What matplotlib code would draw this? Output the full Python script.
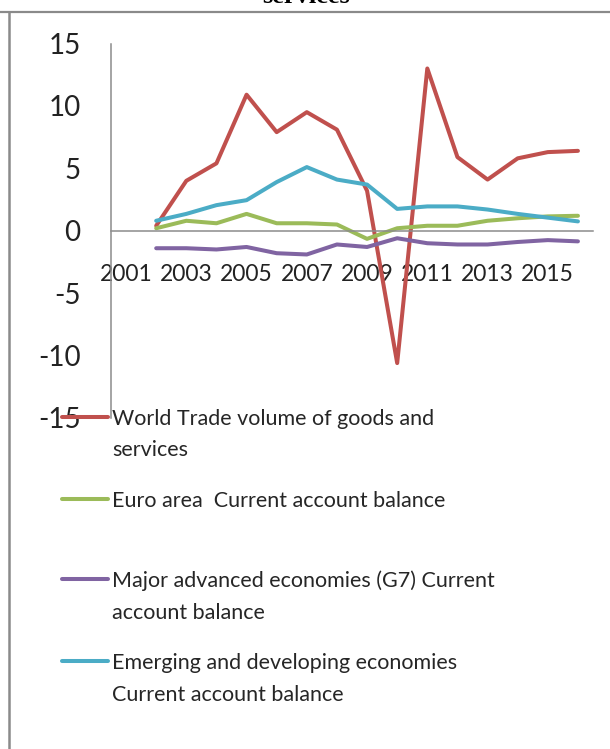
import numpy as np
import matplotlib
matplotlib.use("Agg")
from matplotlib import pyplot as plt
from matplotlib.lines import Line2D

plt.rcParams['font.family'] = ['Lato', 'DejaVu Sans']
plt.rcParams['axes.unicode_minus'] = False

# 数据
years = list(range(2001, 2017))
tick_years = [2001, 2003, 2005, 2007, 2009, 2011, 2013, 2015]
data_years = list(range(2002, 2017))
world_trade = [0.4, 4.0, 5.4, 10.9, 7.9, 9.5, 8.1, 3.2, -10.6, 13.0, 5.9, 4.1, 5.8, 6.3, 6.4]
euro_area = [0.2, 0.8, 0.6, 1.35, 0.6, 0.6, 0.5, -0.65, 0.2, 0.4, 0.4, 0.8, 1.0, 1.15, 1.2]
g7 = [-1.4, -1.4, -1.5, -1.3, -1.8, -1.9, -1.1, -1.3, -0.6, -1.0, -1.1, -1.1, -0.9, -0.75, -0.85]
emerging = [0.8, 1.35, 2.05, 2.45, 3.9, 5.1, 4.1, 3.7, 1.75, 1.95, 1.95, 1.7, 1.35, 1.05, 0.75]
y_ticks = [-15, -10, -5, 0, 5, 10, 15]

labels = ['World Trade volume of goods and\nservices',
          'Euro area  Current account balance',
          'Major advanced economies (G7) Current\naccount balance',
          'Emerging and developing economies\nCurrent account balance']
colors = ['#C0504D', '#9BBB59', '#8064A2', '#4BACC6']
series = [world_trade, euro_area, g7, emerging]

W, H = 610, 749
fig = plt.figure(figsize=(W / 100, H / 100), dpi=100)

def fx(px):
    return px / W

def fy(py):
    return 1 - py / H

ax = fig.add_axes([fx(111), fy(418), fx(593) - fx(111), fy(43.5) - fy(418)])
ax.set_xlim(-0.5, len(years) - 0.5)
ax.set_ylim(-15, 15)

xpos = [years.index(y) for y in data_years]
for vals, c in zip(series, colors):
    ax.plot(xpos, vals, color=c, lw=2.9, solid_joinstyle='round', solid_capstyle='round')

axis_col = '#8C8C8C'
for s in ['top', 'right']:
    ax.spines[s].set_visible(False)
ax.spines['bottom'].set_position(('data', 0))
ax.spines['bottom'].set_color(axis_col)
ax.spines['left'].set_color(axis_col)
ax.spines['bottom'].set_linewidth(1.1)
ax.spines['left'].set_linewidth(1.1)
ax.set_xticks([years.index(y) for y in tick_years])
ax.set_xticklabels([str(y) for y in tick_years])
ax.set_yticks(y_ticks)
ax.set_yticklabels([str(v) for v in y_ticks])
ax.tick_params(axis='x', length=0, pad=24, labelsize=16.5, labelcolor='#222222')
ax.tick_params(axis='y', length=0, pad=22, labelsize=20, labelcolor='#222222')
ax.patch.set_alpha(0)

# 图例 (手动)
rows = [[425, 456], [507], [587, 619], [669, 701]]
for lab, c, r in zip(labels, colors, rows):
    yc = r[0] - 8
    fig.add_artist(Line2D([fx(62), fx(108)], [fy(yc), fy(yc)], color=c, lw=2.9,
                          solid_capstyle='round', zorder=5))
    for line, b in zip(lab.split('\n'), r):
        fig.text(fx(112), fy(b), line, fontsize=15.5, color='#262626', va='baseline', ha='left')

# 边框
fig.add_artist(Line2D([0, 1], [fy(11.5), fy(11.5)], color='#8A8A8A', lw=1.6))
fig.add_artist(Line2D([fx(9), fx(9)], [0, fy(11.5)], color='#8A8A8A', lw=1.8))
fig.text(fx(306), fy(3), 'services', family='Liberation Serif', fontweight='bold',
         fontsize=19, ha='center', va='baseline', color='black')

fig.savefig('out.png', dpi=100)
